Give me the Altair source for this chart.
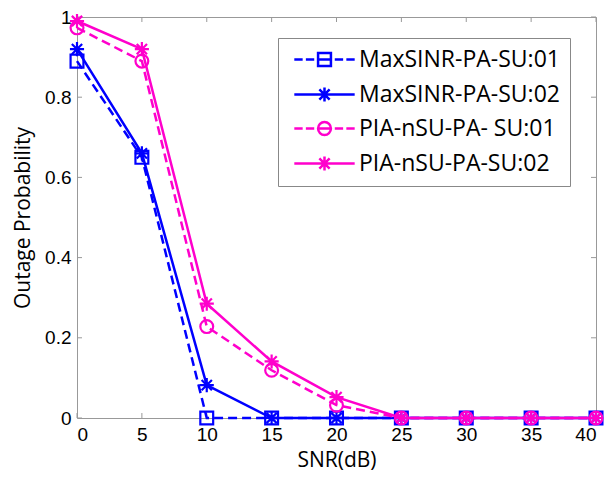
import altair as alt
import pandas as pd

snr = [0, 5, 10, 15, 20, 25, 30, 35, 40]
series_names = ["MaxSINR-PA-SU:01", "MaxSINR-PA-SU:02", "PIA-nSU-PA- SU:01", "PIA-nSU-PA-SU:02"]
s1 = [0.89, 0.65, 0.0, 0, 0, 0, 0, 0, 0]
s2 = [0.92, 0.66, 0.082, 0, 0, 0, 0, 0, 0]
s3 = [0.973, 0.89, 0.228, 0.119, 0.032, 0, 0, 0, 0]
s4 = [0.99, 0.92, 0.285, 0.141, 0.052, 0, 0, 0, 0]
x_ticks = [0, 5, 10, 15, 20, 25, 30, 35, 40]
y_ticks = [0, 0.2, 0.4, 0.6, 0.8, 1.0]

colors = ["#0000FF", "#0000FF", "#FF00CC", "#FF00CC"]
dashed_series = [True, False, True, False]

SQUARE = "M-1,-1H1V1H-1Z"
CIRCLE = "M1,0A1,1,0,1,1,-1,0A1,1,0,1,1,1,0"
STAR = "M0,-1.1V1.1M-1.1,0H1.1M-0.8,-0.8L0.8,0.8M-0.8,0.8L0.8,-0.8"
markers = [SQUARE, STAR, CIRCLE, STAR]
DASHED = "M-4.7,0H-3.4M-2.9,0H-1.6M-1,0H1M1.6,0H2.9M3.4,0H4.7"
SOLID = "M-4.7,0H4.7"
legend_paths = [DASHED + SQUARE, SOLID + STAR, DASHED + CIRCLE, SOLID + STAR]

rows = []
for name, vals in zip(series_names, [s1, s2, s3, s4]):
    for x, v in zip(snr, vals):
        rows.append({"series": name, "snr": x, "p": v})
df = pd.DataFrame(rows)

W, H = 519, 401
xscale = alt.Scale(domain=[0, 40], nice=False, zero=False)
yscale = alt.Scale(domain=[0, 1], nice=False)
cscale = alt.Scale(domain=series_names, range=colors)

xaxis = alt.Axis(values=x_ticks, title="SNR(dB)", labelFont="Liberation Sans", labelFontSize=19,
                 labelColor="black", tickSize=0, domain=False, grid=False, labelPadding=7,
                 titleFont="Open Sans", titleFontSize=21, titleFontWeight="normal",
                 titleColor="black", titlePadding=5)
yaxis = alt.Axis(values=y_ticks, format="~g", title="Outage Probability", labelFont="Liberation Sans",
                 labelFontSize=19, labelColor="black", tickSize=0, domain=False, grid=False,
                 labelPadding=6, titleFont="Open Sans", titleFontSize=21, titleFontWeight="normal",
                 titleColor="black", titlePadding=11)

base = alt.Chart(df)

leg = alt.Legend(title=None, orient="none", legendX=201, legendY=21, labelFont="Open Sans",
                 labelFontSize=23, labelColor="black", symbolSize=165, symbolStrokeWidth=2.5,
                 symbolOffset=25, labelOffset=23, padding=10, rowPadding=10,
                 strokeColor="#888888", fillColor="white", symbolFillColor="transparent",
                 labelLimit=400)

legend_layer = base.mark_point(filled=False, clip=True, strokeWidth=2.5, opacity=1).encode(
    x=alt.X("snr:Q", scale=xscale, axis=xaxis),
    y=alt.value(-300),
    color=alt.Color("series:N", scale=cscale, legend=leg),
    shape=alt.Shape("series:N", scale=alt.Scale(domain=series_names, range=legend_paths), legend=leg),
)

line_layers = []
point_layers = []
for name, path, dashed in zip(series_names, markers, dashed_series):
    sub = base.transform_filter(alt.datum.series == name)
    mk = dict(strokeWidth=2.5)
    if dashed:
        mk["strokeDash"] = [9, 5]
    line_layers.append(
        sub.mark_line(**mk).encode(
            x=alt.X("snr:Q", scale=xscale, axis=xaxis),
            y=alt.Y("p:Q", scale=yscale, axis=yaxis),
            color=alt.Color("series:N", scale=cscale, legend=None),
        )
    )
    point_layers.append(
        sub.mark_point(shape=path, filled=False, size=165, strokeWidth=2.2, opacity=1).encode(
            x=alt.X("snr:Q", scale=xscale),
            y=alt.Y("p:Q", scale=yscale),
            color=alt.Color("series:N", scale=cscale, legend=None),
        )
    )

series_layers = []
for l, p in zip(line_layers, point_layers):
    series_layers += [l, p]

tick_col = "#999999"
xt = pd.DataFrame({"t": x_ticks})
yt = pd.DataFrame({"t": y_ticks})
xt_bottom = alt.Chart(xt).mark_rule(color=tick_col, strokeWidth=1).encode(
    x=alt.X("t:Q", scale=xscale), y=alt.value(H), y2=alt.value(H - 5))
xt_top = alt.Chart(xt).mark_rule(color=tick_col, strokeWidth=1).encode(
    x=alt.X("t:Q", scale=xscale), y=alt.value(0), y2=alt.value(5))
yt_left = alt.Chart(yt).mark_rule(color=tick_col, strokeWidth=1).encode(
    y=alt.Y("t:Q", scale=yscale), x=alt.value(0), x2=alt.value(5))
yt_right = alt.Chart(yt).mark_rule(color=tick_col, strokeWidth=1).encode(
    y=alt.Y("t:Q", scale=yscale), x=alt.value(W), x2=alt.value(W - 5))

chart = alt.layer(
    legend_layer, xt_bottom, xt_top, yt_left, yt_right, *series_layers
).properties(
    width=W, height=H,
    autosize=alt.AutoSizeParams(type="none"),
    padding={"left": 69, "top": 9, "right": 11, "bottom": 56},
    background="white",
).configure_view(stroke="#999999", strokeWidth=1)

chart.save("out.html", embed_options={"renderer": "svg", "actions": False})
